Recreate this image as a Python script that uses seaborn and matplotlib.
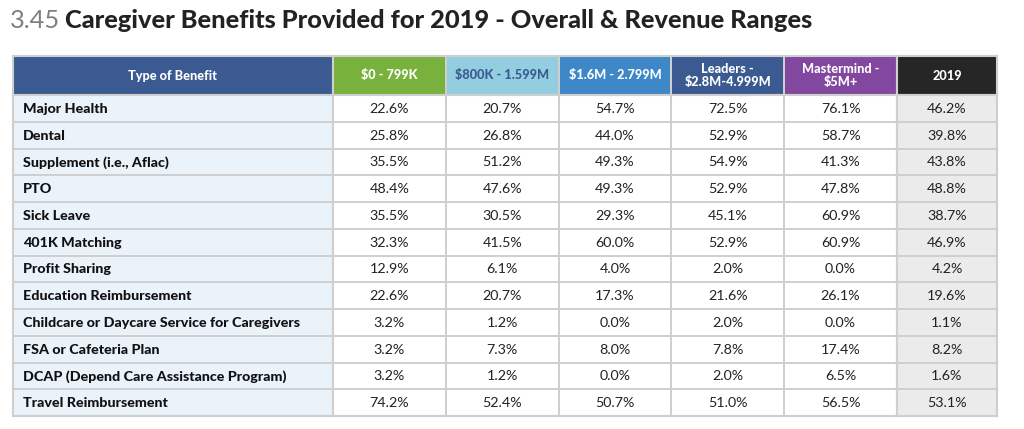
import numpy as np
import matplotlib
matplotlib.use("Agg")
import matplotlib.pyplot as plt
import seaborn as sns
from matplotlib.colors import ListedColormap

sns.set_theme(style="white")
plt.rcParams['font.family'] = ['Lato', 'DejaVu Sans']

title_num = "3.45"
title_text = "Caregiver Benefits Provided for 2019 - Overall & Revenue Ranges"

benefits = ["Major Health", "Dental", "Supplement (i.e., Aflac)", "PTO", "Sick Leave",
            "401K Matching", "Profit Sharing", "Education Reimbursement",
            "Childcare or Daycare Service for Caregivers", "FSA or Cafeteria Plan",
            "DCAP (Depend Care Assistance Program)", "Travel Reimbursement"]
ranges = ["$0 - 799K", "$800K - 1.599M", "$1.6M - 2.799M", "Leaders -\n$2.8M-4.999M",
          "Mastermind -\n$5M+"]
total_label = "2019"

rev_0_799k = [22.6, 25.8, 35.5, 48.4, 35.5, 32.3, 12.9, 22.6, 3.2, 3.2, 3.2, 74.2]
rev_800k_1599m = [20.7, 26.8, 51.2, 47.6, 30.5, 41.5, 6.1, 20.7, 1.2, 7.3, 1.2, 52.4]
rev_16m_2799m = [54.7, 44.0, 49.3, 49.3, 29.3, 60.0, 4.0, 17.3, 0.0, 8.0, 0.0, 50.7]
rev_leaders = [72.5, 52.9, 54.9, 52.9, 45.1, 52.9, 2.0, 21.6, 2.0, 7.8, 2.0, 51.0]
rev_mastermind = [76.1, 58.7, 41.3, 47.8, 60.9, 60.9, 0.0, 26.1, 0.0, 17.4, 6.5, 56.5]
overall_2019 = [46.2, 39.8, 43.8, 48.8, 38.7, 46.9, 4.2, 19.6, 1.1, 8.2, 1.6, 53.1]

header_colors = ["#78B13C", "#93CEE0", "#3E88C8", "#3A5A91", "#8248A0"]
header_text_colors = ["white", "#3A5A91", "white", "white", "white"]
grid = "#CFCFCF"
heavy = "black"

W, H = 1024, 429
fig = plt.figure(figsize=(W / 100, H / 100), dpi=100)
fig.patch.set_facecolor("white")


def add_ax(x0, x1, y0, y1):
    return fig.add_axes([x0 / W, 1 - y1 / H, (x1 - x0) / W, (y1 - y0) / H])


def table_block(ax, codes, colors):
    sns.heatmap(codes, ax=ax, cmap=ListedColormap(colors), vmin=-0.5,
                vmax=len(colors) - 0.5, cbar=False, linewidths=1.2,
                linecolor=grid, xticklabels=False, yticklabels=False)
    for sp in ax.spines.values():
        sp.set_visible(True)
        sp.set_color(grid)
        sp.set_linewidth(1.5)


n = len(benefits)
x_lab, x_num, x_tot, x_end = 13, 333, 897, 997
y_hdr, y_body, y_end = 56, 95, 416

# header row
ax = add_ax(x_lab, x_num, y_hdr, y_body)
table_block(ax, np.zeros((1, 1)), ["#3A5A91"])
ax.text(0.5, 0.5, "Type of Benefit", ha="center", va="center", color="white",
        fontsize=9.2, fontweight=heavy)

ax = add_ax(x_num, x_tot, y_hdr, y_body)
table_block(ax, np.arange(len(ranges))[None, :], header_colors)
for j, name in enumerate(ranges):
    ax.text(j + 0.5, 0.5, name, ha="center", va="center", color=header_text_colors[j],
            fontsize=9.2, fontweight=heavy, linespacing=1.1)

ax = add_ax(x_tot, x_end, y_hdr, y_body)
table_block(ax, np.zeros((1, 1)), ["#262626"])
ax.text(0.5, 0.5, total_label, ha="center", va="center", color="white",
        fontsize=9.2, fontweight=heavy)

# benefit labels
ax = add_ax(x_lab, x_num, y_body, y_end)
table_block(ax, np.zeros((n, 1)), ["#EAF2FA"])
for i, b in enumerate(benefits):
    ax.text(0.032, i + 0.52, b, ha="left", va="center", color="#111111",
            fontsize=10.3, fontweight=heavy)

# revenue range values
vals = np.column_stack([rev_0_799k, rev_800k_1599m, rev_16m_2799m, rev_leaders, rev_mastermind])
ax = add_ax(x_num, x_tot, y_body, y_end)
table_block(ax, np.zeros_like(vals), ["white"])
for i in range(n):
    for j in range(vals.shape[1]):
        ax.text(j + 0.5, i + 0.52, f"{vals[i, j]:.1f}%", ha="center", va="center",
                color="#222222", fontsize=10.3)

# overall 2019
ax = add_ax(x_tot, x_end, y_body, y_end)
table_block(ax, np.zeros((n, 1)), ["#EBEBEB"])
for i, v in enumerate(overall_2019):
    ax.text(0.5, i + 0.52, f"{v:.1f}%", ha="center", va="center", color="#222222",
            fontsize=10.3)

# title
t1 = fig.text(10 / W, 1 - 20 / H, title_num, ha="left", va="center", color="#7F7F7F",
              fontsize=18.3)
r = fig.canvas.get_renderer()
bb = t1.get_window_extent(r)
fig.text((bb.x1 + 5) / W, 1 - 20 / H, title_text, ha="left", va="center",
         color="#222222", fontsize=18.3, fontweight=heavy)

fig.savefig("out.png", dpi=100, facecolor="white")
